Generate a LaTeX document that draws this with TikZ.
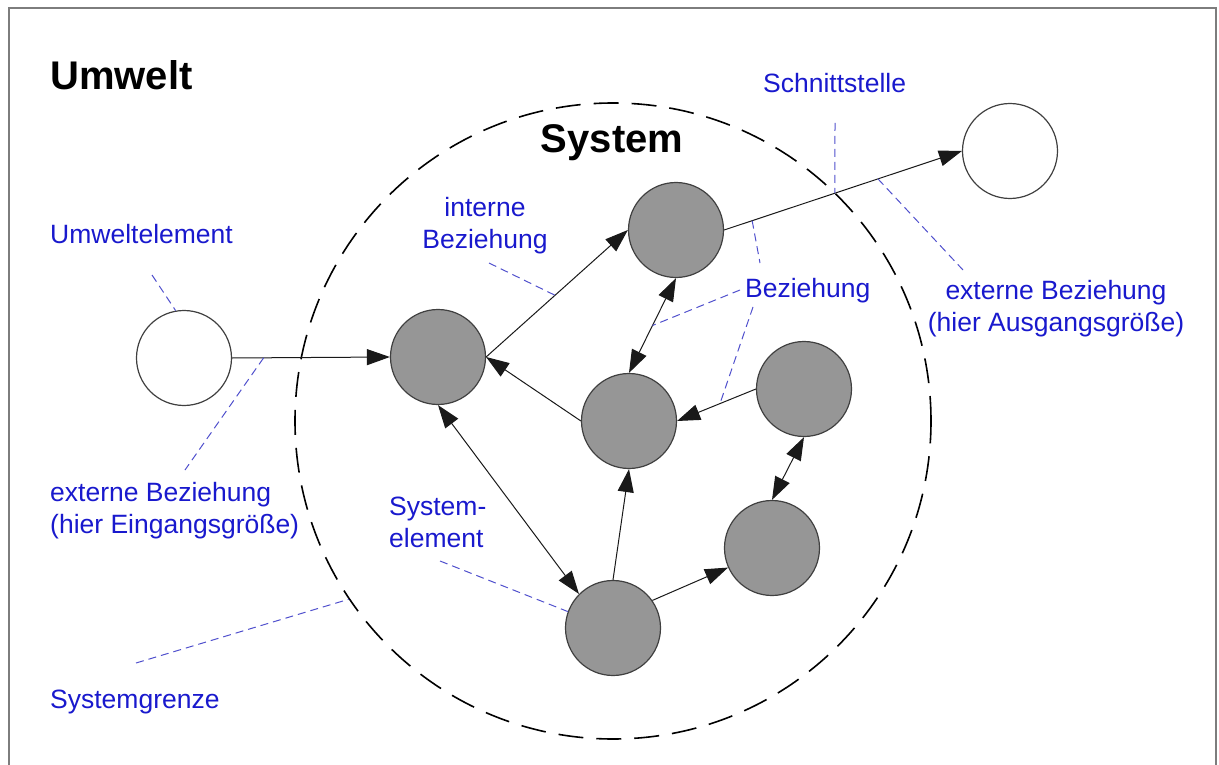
\documentclass[tikz,border=0pt]{standalone}
\usepackage{fontspec}
\setmainfont{Liberation Sans}
\usetikzlibrary{arrows.meta}
\definecolor{lblblue}{RGB}{25,25,205}
\definecolor{leadblue}{RGB}{80,80,205}
\definecolor{elemgray}{RGB}{150,150,150}
\definecolor{framegray}{RGB}{125,125,125}

\begin{document}
\begin{tikzpicture}[x=1pt,y=-1pt,
  >={Triangle[length=23pt,width=16pt]},
  elem/.style={circle,draw=black!75,line width=1.2pt,fill=elemgray,minimum size=95pt,inner sep=0pt},
  envelem/.style={elem,fill=white},
  rel/.style={draw=black!90,line width=1pt},
  lead/.style={draw=leadblue,line width=1pt,dash pattern=on 8pt off 5pt},
  lbl/.style={text=lblblue,inner sep=0pt,font=\fontsize{26.5}{32}\selectfont},
  title/.style={inner sep=0pt,font=\fontsize{40}{48}\selectfont\bfseries},
  boundary/.style={circle,draw=black,line width=1.6pt,dash pattern=on 25pt off 13pt,minimum size=636pt,inner sep=0pt}
]
\useasboundingbox (0,0) rectangle (1219,765);
\clip (0,0) rectangle (1219,765);

% outer frame (environment)
\draw[framegray,line width=2pt] (9,800) -- (9,8) -- (1216,8) -- (1216,800);

% system boundary
\node[boundary] (sys) at (613,421) {};

% environment elements
\node[envelem] (wl) at (184,358) {};
\node[envelem] (wr) at (1010,151) {};

% system elements
\node[elem] (a) at (438,357) {};
\node[elem] (b) at (676,230) {};
\node[elem] (c) at (629,421) {};
\node[elem] (d) at (804,389) {};
\node[elem] (e) at (772,548) {};
\node[elem] (f) at (613,628) {};

% relations
\draw[rel,->] (wl.east) -- coordinate[pos=0.2] (pin) (a.west);
\draw[rel,->] (a.east) -- coordinate[pos=0.486] (pint) (b.west);
\draw[rel,->] (b.east) -- coordinate[pos=0.118] (pbez) coordinate[pos=0.466] (pschnitt) coordinate[pos=0.647] (pout) (wr.west);
\draw[rel,<->] (b.south) -- coordinate[pos=0.5] (pbc) (c.north);
\draw[rel,->] (c.west) -- (a.east);
\draw[rel,->] (d.west) -- coordinate[pos=0.456] (pdc) (c.east);
\draw[rel,<->] (d.south) -- (e.north);
\draw[rel,<->] (a.south) -- (f.north west);
\draw[rel,->] (f.north) -- (c.south);
\draw[rel,->] (f.35) -- (e.204);

% leader lines
\coordinate (qumwelt) at (152,275);
\coordinate (qin) at (185,470);
\coordinate (qgrenze) at (136,663);
\coordinate (qint) at (489,263);
\coordinate (qschnitt) at (835,123);
\coordinate (qout) at (963,270);
\coordinate (qbez1) at (760,263);
\coordinate (qbez2) at (740,290);
\coordinate (qbez3) at (753,307);
\coordinate (qelem) at (440,561);

\draw[lead] (qumwelt) -- (wl.100);
\draw[lead] (pin) -- (qin);
\draw[lead] (qgrenze) -- (sys.214.5);
\draw[lead] (qint) -- (pint);
\draw[lead] (qschnitt) -- (pschnitt);
\draw[lead] (pout) -- (qout);
\draw[lead] (pbez) -- (qbez1);
\draw[lead] (qbez2) -- (pbc);
\draw[lead] (qbez3) -- (pdc);
\draw[lead] (qelem) -- (f.160);

% titles
\node[title,anchor=base west] (umwelt) at (50,90) {Umwelt};
\node[title,anchor=base] (system) at (612,153) {System};

% labels (multi-line labels are placed by the baseline of their last line)
\node[lbl,anchor=base west] (lumwelt) at (50,243) {Umweltelement};
\node[lbl,anchor=base west,align=left] (lin) at (50,533) {externe Beziehung\\(hier Eingangsgröße)};
\node[lbl,anchor=base west] (lgrenze) at (50,708) {Systemgrenze};
\node[lbl,anchor=base,align=center] (lint) at (485,248) {interne\\Beziehung};
\node[lbl,anchor=base west] (lschnitt) at (763,93) {Schnittstelle};
\node[lbl,anchor=base west] (lbez) at (745,297) {Beziehung};
\node[lbl,anchor=base,align=center] (lout) at (1056,331) {externe Beziehung\\(hier Ausgangsgröße)};
\node[lbl,anchor=base west,align=left] (lelem) at (389,547) {System-\\element};
\end{tikzpicture}
\end{document}
